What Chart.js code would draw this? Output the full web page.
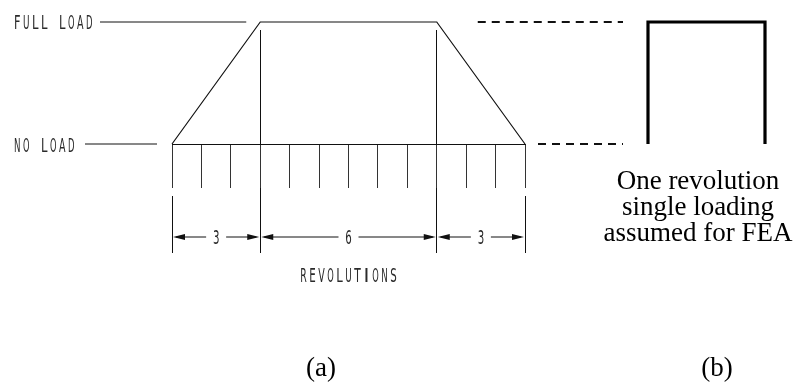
<!DOCTYPE html>
<html>
<head>
<meta charset="utf-8">
<script src="https://cdn.jsdelivr.net/npm/chart.js@4.4.1/dist/chart.umd.min.js"></script>
<style>
  html, body { margin: 0; padding: 0; background: #fff; }
  #wrap { position: relative; width: 796px; height: 383px; }
</style>
</head>
<body>
<div id="wrap"><canvas id="loadChart" width="796" height="383"></canvas></div>
<script>
'use strict';

/* ── Panel (a): load cycle, revolutions vs. load level (0 = no load, 1 = full load) ── */
const CYCLE_REV    = [0, 3, 9, 12];
const CYCLE_LOAD   = [0, 1, 1, 0];
const REV_STEP     = 1;                       // one tick per revolution
const PHASE_EDGES  = [0, 3, 9, 12];           // ramp up / hold / ramp down
const PHASE_LABELS = ['3', '6', '3'];

/* ── Panel (b): single loading over one revolution ── */
const SINGLE_REV   = [0, 0, 1, 1];
const SINGLE_LOAD  = [0, 1, 1, 0];

const LEVEL_NAMES  = ['NO LOAD', 'FULL LOAD'];
const AXIS_TITLE   = 'REVOLUTIONS';
const NOTE_LINES   = ['One revolution', 'single loading', 'assumed for FEA'];
const PANEL_TAGS   = ['(a)', '(b)'];

/* ── layout (px) ── */
const W = 796, H = 383;
const PLOT     = { left: 172, right: 525, top: 22, bottom: 144 };
const TICK_LEN = 44;
const BOX      = { left: 648, right: 765 };
const INK      = '#111';
const CAD_FONT = '20px "DejaVu Sans", sans-serif';
const SERIF    = '27px "Liberation Serif", "Times New Roman", serif';

/* panel (b) lives on its own x axis, placed right of panel (a) */
const BOX_PX   = BOX.right - BOX.left;
const XB_MIN   = (PLOT.left - BOX.left) / BOX_PX;
const XB_MAX   = (PLOT.right - BOX.left) / BOX_PX;

function toPoints(xs, ys) {
  return xs.map((x, i) => ({ x, y: ys[i] }));
}

/* same 1px snapping as the grid lines */
function crisp(px) {
  return Math.round(px - 0.5) + 0.5;
}

/* drafting-style lettering: narrow glyphs on a fixed pitch */
function cadText(ctx, str, x, y, align) {
  const pitch = 9, glyphW = 6.5;
  const w  = (str.length - 1) * pitch + glyphW;
  const x0 = align === 'center' ? x - w / 2 : x;
  ctx.save();
  ctx.font = CAD_FONT;
  ctx.fillStyle = '#2a2a2a';
  ctx.textAlign = 'center';
  ctx.textBaseline = 'alphabetic';
  for (let i = 0; i < str.length; i++) {
    if (str[i] !== ' ') ctx.fillText(str[i], x0 + i * pitch + glyphW / 2, y, glyphW);
  }
  ctx.restore();
}

function hLine(ctx, x1, x2, y, width, dash) {
  ctx.save();
  ctx.strokeStyle = INK;
  ctx.lineWidth = width || 1;
  ctx.setLineDash(dash || []);
  ctx.beginPath();
  ctx.moveTo(x1, y);
  ctx.lineTo(x2, y);
  ctx.stroke();
  ctx.restore();
}

function vLine(ctx, x, y1, y2) {
  x = crisp(x);
  ctx.save();
  ctx.strokeStyle = INK;
  ctx.lineWidth = 1;
  ctx.beginPath();
  ctx.moveTo(x, y1);
  ctx.lineTo(x, y2);
  ctx.stroke();
  ctx.restore();
}

function arrowHead(ctx, tipX, y, dir) {
  const len = 12, half = 3;
  ctx.save();
  ctx.fillStyle = INK;
  ctx.beginPath();
  ctx.moveTo(tipX, y);
  ctx.lineTo(tipX - dir * len, y - half);
  ctx.lineTo(tipX - dir * len, y + half);
  ctx.closePath();
  ctx.fill();
  ctx.restore();
}

/* leaders, dimensions and captions around both panels */
const draftingPlugin = {
  id: 'drafting',
  afterDraw(chart) {
    const { ctx } = chart;
    const x  = chart.scales.x;
    const xb = chart.scales.xb;
    const y  = chart.scales.y;

    const yFull = y.getPixelForValue(1);
    const yNone = y.getPixelForValue(0);

    /* level names with leader lines up to the load curve */
    cadText(ctx, LEVEL_NAMES[1], 14, yFull + 7);
    hLine(ctx, 100, x.getPixelForValue(PHASE_EDGES[1]) - 14, yFull, 1);
    cadText(ctx, LEVEL_NAMES[0], 14, yNone + 8);
    hLine(ctx, 85, x.getPixelForValue(PHASE_EDGES[0]) - 15, yNone, 1);

    /* dashed projections from (a) to (b) */
    const boxL = xb.getPixelForValue(0);
    hLine(ctx, x.getPixelForValue(PHASE_EDGES[2]) + 41, boxL - 25, yFull, 2, [8, 6]);
    hLine(ctx, x.getPixelForValue(PHASE_EDGES[3]) + 13, boxL - 25, yNone, 2, [8, 6]);

    /* phase boundaries and extension lines */
    const dimY    = yNone + 93;
    const extTop  = yNone + TICK_LEN + 8;
    const extBot  = yNone + 109;
    PHASE_EDGES.forEach((rev, i) => {
      const px = x.getPixelForValue(rev);
      const inner = i > 0 && i < PHASE_EDGES.length - 1;
      if (inner) vLine(ctx, px, yFull + 8, yNone);
      vLine(ctx, px, inner ? yNone + TICK_LEN : extTop, extBot);
    });

    /* dimension line with arrows and phase lengths */
    for (let i = 0; i < PHASE_LABELS.length; i++) {
      const a = x.getPixelForValue(PHASE_EDGES[i]);
      const b = x.getPixelForValue(PHASE_EDGES[i + 1]);
      const mid = (a + b) / 2;
      hLine(ctx, a + 4, mid - 10, dimY, 1);
      hLine(ctx, mid + 10, b - 4, dimY, 1);
      arrowHead(ctx, a + 1, dimY, -1);
      arrowHead(ctx, b - 1, dimY, 1);
      cadText(ctx, PHASE_LABELS[i], mid, dimY + 7, 'center');
    }

    cadText(ctx, AXIS_TITLE, x.getPixelForValue(6), yNone + 138, 'center');

    /* note under panel (b) */
    ctx.save();
    ctx.font = SERIF;
    ctx.fillStyle = '#000';
    ctx.textAlign = 'center';
    ctx.textBaseline = 'alphabetic';
    NOTE_LINES.forEach((line, i) => ctx.fillText(line, 698, 189 + i * 26));
    ctx.fillText(PANEL_TAGS[0], 321, 376);
    ctx.fillText(PANEL_TAGS[1], 717, 376);
    ctx.restore();
  }
};

const chart = new Chart(document.getElementById('loadChart'), {
  type: 'line',
  data: {
    datasets: [
      {
        label: 'load cycle',
        data: toPoints(CYCLE_REV, CYCLE_LOAD),
        xAxisID: 'x',
        yAxisID: 'y',
        borderColor: INK,
        borderWidth: 1.2,
        pointRadius: 0,
        tension: 0,
        clip: false
      },
      {
        label: 'single loading',
        data: toPoints(SINGLE_REV, SINGLE_LOAD),
        xAxisID: 'xb',
        yAxisID: 'y',
        borderColor: '#000',
        borderWidth: 3.2,
        borderJoinStyle: 'miter',
        borderCapStyle: 'butt',
        pointRadius: 0,
        tension: 0,
        clip: false
      }
    ]
  },
  options: {
    responsive: false,
    devicePixelRatio: 1,
    animation: false,
    layout: {
      padding: {
        left: PLOT.left,
        right: W - PLOT.right,
        top: PLOT.top,
        bottom: H - PLOT.bottom - TICK_LEN
      }
    },
    plugins: {
      legend: { display: false },
      tooltip: { enabled: false }
    },
    scales: {
      x: {
        type: 'linear',
        position: 'bottom',
        min: CYCLE_REV[0],
        max: CYCLE_REV[CYCLE_REV.length - 1],
        ticks: { stepSize: REV_STEP, display: false },
        grid: {
          drawOnChartArea: false,
          drawTicks: true,
          tickLength: TICK_LEN,
          color: '#333',
          lineWidth: 1
        },
        border: { display: true, color: INK, width: 1 }
      },
      xb: {
        type: 'linear',
        display: false,
        bounds: 'data',
        /* range set after the data limits so every corner of the box is kept */
        afterDataLimits(scale) {
          scale.min = XB_MIN;
          scale.max = XB_MAX;
        }
      },
      y: {
        type: 'linear',
        display: false,
        min: 0,
        max: 1
      }
    }
  },
  plugins: [draftingPlugin]
});
</script>
</body>
</html>
